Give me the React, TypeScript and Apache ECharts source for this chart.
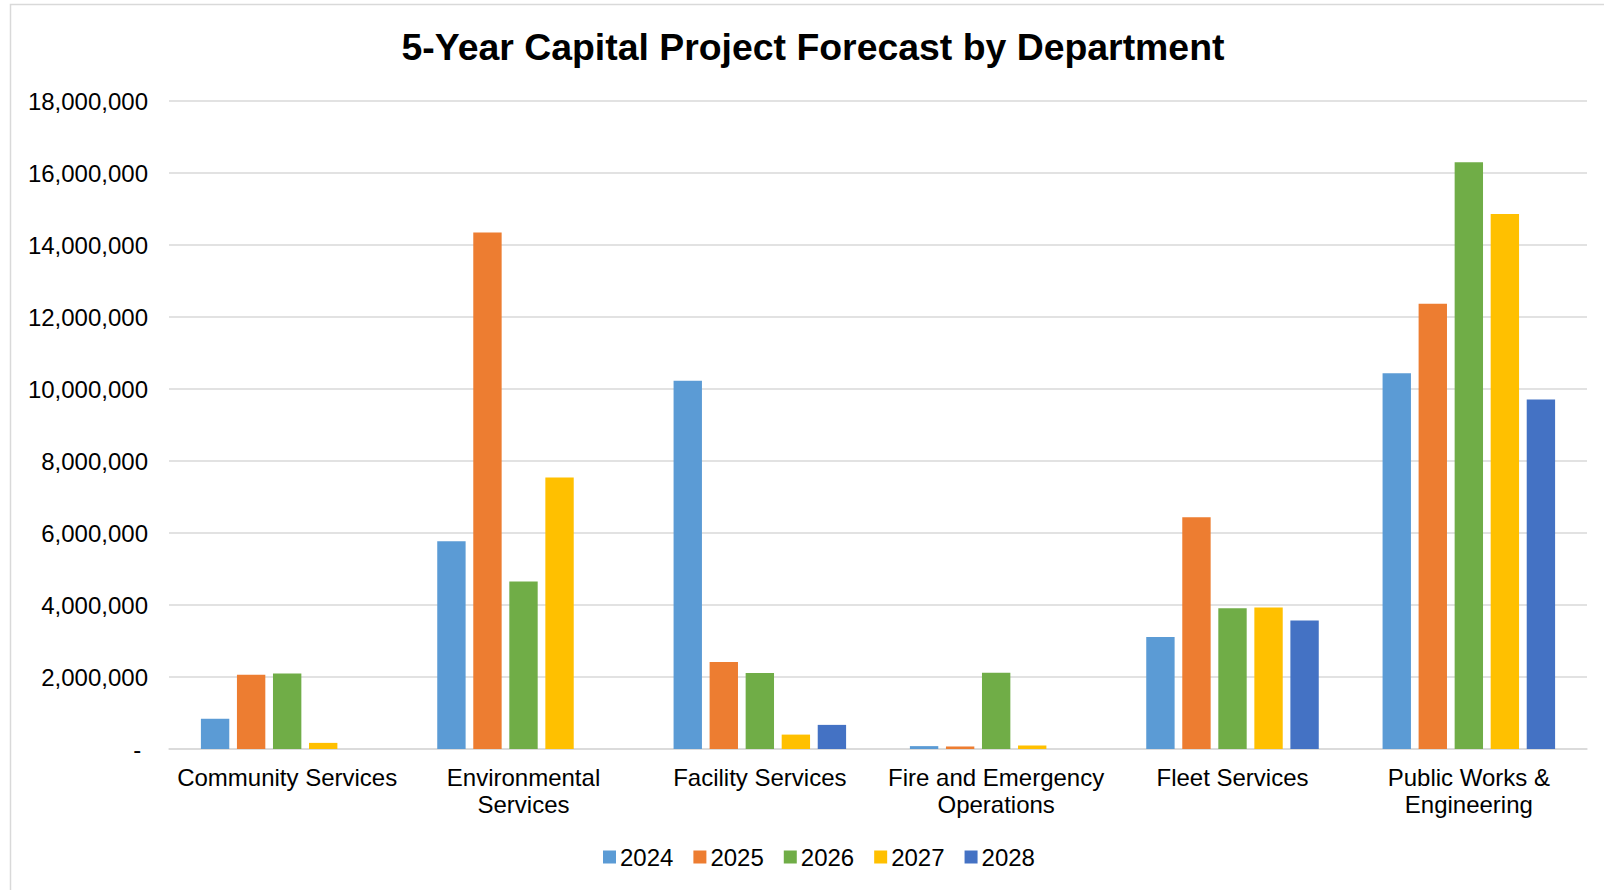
import React, { useEffect, useRef } from "react";
import * as echarts from "echarts";

const categories = [
  "Community Services",
  "Environmental\nServices",
  "Facility Services",
  "Fire and Emergency\nOperations",
  "Fleet Services",
  "Public Works &\nEngineering",
];

const years = ["2024", "2025", "2026", "2027", "2028"];

const values2024 = [840000, 5770000, 10230000, 80000, 3110000, 10440000];
const values2025 = [2060000, 14350000, 2420000, 70000, 6440000, 12370000];
const values2026 = [2100000, 4650000, 2110000, 2120000, 3910000, 16300000];
const values2027 = [170000, 7540000, 400000, 100000, 3930000, 14860000];
const values2028 = [0, 0, 670000, 0, 3570000, 9710000];

const seriesValues = [values2024, values2025, values2026, values2027, values2028];
const colors = ["#5B9BD5", "#ED7D31", "#70AD47", "#FFC000", "#4472C4"];

const yTicks = { min: 0, max: 18000000, interval: 2000000 };

const FONT = "'Liberation Sans', Arial, sans-serif";

export default function App() {
  const ref = useRef<HTMLDivElement>(null);

  useEffect(() => {
    if (!ref.current) return;
    const chart = echarts.init(ref.current, undefined, { renderer: "svg" });
    chart.setOption({
      animation: false,
      backgroundColor: "#ffffff",
      textStyle: { fontFamily: FONT },
      title: {
        text: "5-Year Capital Project Forecast by Department",
        left: 808,
        textAlign: "center",
        top: 23,
        textStyle: {
          fontFamily: FONT,
          fontSize: 37.4,
          fontWeight: "bold",
          color: "#000000",
        },
      },
      graphic: [
        {
          type: "rect",
          shape: { x: 10.5, y: 4.5, width: 1700, height: 1000 },
          style: { fill: "none", stroke: "#d9d9d9", lineWidth: 1.5 },
          silent: true,
          z: -1,
        },
      ],
      legend: {
        data: years,
        left: 598,
        top: 840,
        itemWidth: 13,
        itemHeight: 13,
        itemGap: 20,
        icon: "rect",
        textStyle: { fontFamily: FONT, fontSize: 24, color: "#000000", padding: [0, 0, 0, -1] },
      },
      grid: {
        left: 169,
        right: 17,
        top: 101,
        bottom: 141,
        containLabel: false,
      },
      xAxis: {
        type: "category",
        data: categories,
        axisTick: { show: false },
        axisLine: { lineStyle: { color: "#d9d9d9", width: 1.5 } },
        axisLabel: {
          interval: 0,
          margin: 15,
          fontFamily: FONT,
          fontSize: 24,
          lineHeight: 27,
          color: "#000000",
        },
      },
      yAxis: {
        type: "value",
        min: yTicks.min,
        max: yTicks.max,
        interval: yTicks.interval,
        axisLine: { show: false },
        axisTick: { show: false },
        splitLine: { lineStyle: { color: "#d9d9d9", width: 1.5 } },
        axisLabel: {
          margin: 21,
          fontFamily: FONT,
          fontSize: 24,
          color: "#000000",
          formatter: (v: number) => (v === 0 ? "- " : v.toLocaleString("en-US")),
        },
      },
      series: years.map((y, i) => ({
        name: y,
        type: "bar",
        data: seriesValues[i],
        barGap: "27%",
        barCategoryGap: "27%",
        itemStyle: { color: colors[i] },
      })),
      color: colors,
    });
    return () => chart.dispose();
  }, []);

  return (
    <div
      ref={ref}
      style={{ position: "fixed", left: 0, top: 0, width: 1604, height: 890 }}
    />
  );
}
